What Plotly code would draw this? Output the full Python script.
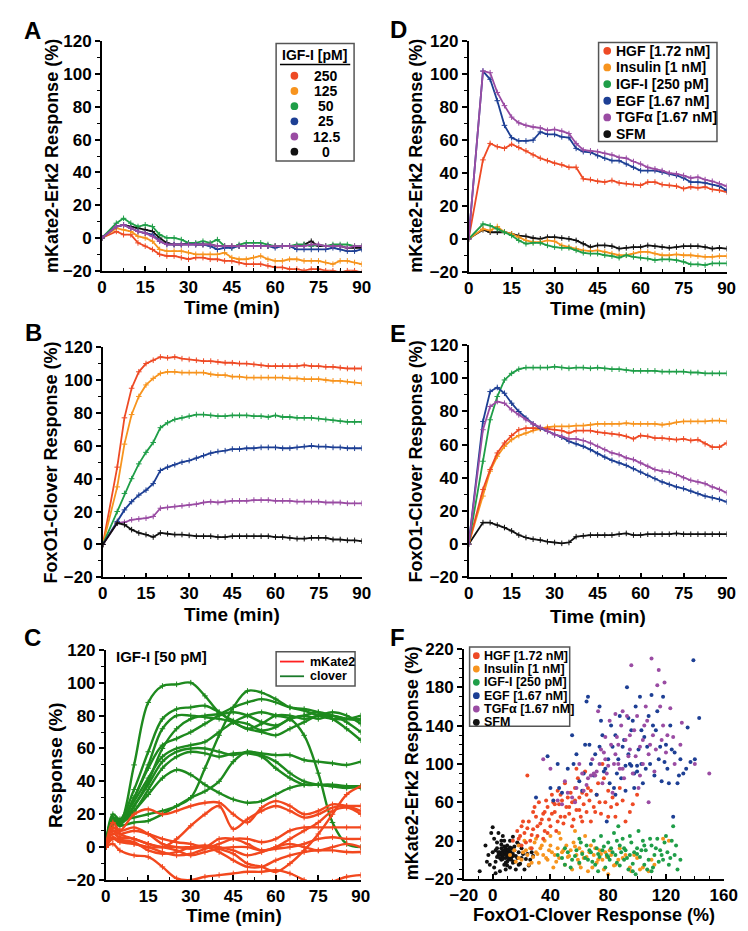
import plotly.graph_objects as go

# ---------------- data ----------------
T = [0, 5, 7.5, 10, 12.5, 15, 17.5, 20, 22.5, 25, 27.5, 30, 32.5, 35, 37.5, 40, 42.5, 45,
     47.5, 50, 52.5, 55, 57.5, 60, 62.5, 65, 67.5, 70, 72.5, 75, 77.5, 80, 82.5, 85, 87.5, 90]

# Panel A: mKate2-Erk2 response, IGF-I doses
A_250 = [0, 4, 2, 2, -3, -5, -7, -10, -11, -11, -12, -13, -12, -12, -13, -13, -14, -14, -15, -16,
         -16, -16, -17, -18, -18, -19, -19, -20, -19, -19, -20, -20, -21, -20, -20, -21]
A_125 = [0, 6, 5, 4, 1, 0, -2, -7, -8, -8, -8, -9, -10, -10, -10, -10, -9, -12, -13, -13,
         -12, -11, -13, -14, -14, -13, -13, -14, -14, -14, -15, -16, -14, -14, -15, -16]
A_50 = [0, 9, 12, 9, 7, 8, 7, 2, 0, 0, -1, -3, -3, -2, -3, -1, -5, -6, -4, -3,
        -3, -3, -4, -5, -5, -5, -4, -4, -5, -4, -5, -4, -4, -4, -5, -5]
A_25 = [0, 7, 8, 6, 4, 3, 2, -2, -4, -4, -4, -4, -4, -4, -5, -7, -6, -6, -5, -5,
        -5, -5, -5, -6, -5, -5, -7, -7, -7, -7, -7, -6, -7, -8, -8, -7]
A_12 = [0, 7, 8, 6, 4, 3, 1, -2, -4, -4, -4, -4, -4, -4, -4, -5, -5, -5, -5, -5,
        -5, -5, -5, -5, -5, -5, -5, -5, -4, -4, -5, -5, -5, -6, -5, -5]
A_0 = [0, 7, 8, 7, 6, 5, 4, 0, -3, -4, -4, -3, -4, -4, -4, -5, -5, -5, -5, -5,
       -5, -5, -5, -5, -5, -5, -5, -4, -2, -5, -5, -5, -5, -6, -6, -6]

# Panel B: FoxO1-Clover response, IGF-I doses
B_250 = [0, 47, 77, 95, 105, 110, 112, 114, 113.5, 114, 113, 112.5, 112, 111.5, 111.5, 111, 110.5, 110.5,
         110, 110, 109.5, 109, 108.5, 108.5, 108.5, 108.5, 108.5, 109, 108.5, 108.5, 108, 108, 107.5, 107, 107, 107]
B_125 = [0, 35, 61, 79, 90, 97, 101, 104, 105, 105, 104.5, 104.5, 104.5, 104.5, 103.5, 103, 103, 102,
         102, 101.5, 101.5, 101.5, 101.5, 101.5, 101.5, 101, 101, 100.5, 100.5, 100.5, 100, 99.5, 99.5, 99, 98.5, 98]
B_50 = [0, 20, 31, 40, 49, 56, 62, 71, 74, 76, 77, 78, 79, 79, 78.5, 78, 78, 78.5,
        78.5, 78.5, 78, 78, 77.5, 78.5, 77.5, 77.5, 77, 77, 77, 76.5, 76, 75.5, 75, 74.5, 74.5, 74.5]
B_25 = [0, 14, 21, 26, 30, 33, 37, 45, 47, 48.5, 50, 51, 52.5, 54, 55.5, 56.5, 57, 58,
        58, 58.5, 58.5, 59, 59, 59, 58.5, 58.5, 59, 59.5, 60, 59.5, 59.5, 59, 59, 58.5, 58.5, 58.5]
B_12 = [0, 13, 13.5, 15, 15.5, 16, 17, 22, 22.5, 23, 23.5, 24, 24.5, 25.5, 26, 25.5, 26, 26.5,
        26.5, 26.5, 27, 27, 27, 26.5, 26.5, 26.5, 26, 26, 26, 26, 25.5, 25.5, 25.5, 25, 25, 25]
B_0 = [0, 13, 12, 9, 7, 6, 4.5, 7, 6.5, 6, 6, 5.5, 5, 5, 5, 4.5, 4.5, 5,
       5, 5, 5, 5, 5, 4.5, 4.5, 4, 3.5, 3.5, 4, 4, 4, 3, 3, 2.5, 2.5, 2]

# Panel D: mKate2-Erk2 response, ligands
D_HGF = [0, 48, 58, 56, 55, 57.5, 55.5, 53.5, 51, 49, 47.5, 46, 45, 43.5, 43.5, 36.5, 36, 35,
         34.5, 35.5, 34, 33.5, 33, 32.5, 34.5, 34.5, 33, 32.5, 32, 30.5, 31.5, 31, 31.5, 30, 29.5, 28.5]
D_INS = [0, 6, 5, 7.5, 4, 3, 1, -1, -2, -2, -1, -1.5, -4, -5, -6, -7, -7.5, -7,
         -8, -9, -10, -10, -9, -8, -8, -9, -10, -10, -9.5, -10, -10, -10.5, -11, -11, -10.5, -10.5]
D_IGF = [0, 9, 8, 6, 4, 2, -1, -3, -2.5, -2.5, -4, -5, -5.5, -5.5, -7, -8.5, -9, -9,
         -10, -10.5, -11.5, -10, -11, -11.5, -12, -13, -12.5, -12.5, -13, -14, -15.5, -15.5, -16, -15, -15, -15]
D_EGF = [0, 102, 97, 84, 69, 61.5, 59.5, 59.5, 60, 65, 63.5, 63.5, 62, 61.5, 55, 53, 52.5, 50.5,
         49, 47.5, 47.5, 45.5, 43.5, 41.5, 41.5, 41.5, 40.5, 39.5, 38.5, 37, 34.5, 34.5, 34, 33, 32, 29.5]
D_TGF = [0, 102, 101, 89, 81, 74, 70.5, 69, 68, 67.5, 66, 66.5, 65.5, 64, 58, 54, 53.5, 53,
         52, 51, 49.5, 49, 47, 45.5, 43.5, 42.5, 41.5, 40, 39.5, 38.5, 37, 37.5, 36, 35, 33.5, 32]
D_SFM = [0, 5.5, 4, 4, 4, 3, 2, 1.5, 0.5, 0, 1, 1, 0.5, 0, -1, -3, -5, -4,
         -4, -4.5, -6, -5.5, -5, -5, -4, -4.5, -5, -5.5, -5, -4.5, -4.5, -4.5, -5, -6, -5.5, -6]

# Panel E: FoxO1-Clover response, ligands
E_IGF = [0, 50, 75, 89, 99, 103, 105.5, 106.5, 106.5, 106.5, 106.5, 107, 106.5, 106, 106.5, 106.5, 106, 106.5,
         106, 105.5, 105.5, 105, 104.5, 104.5, 104.5, 104.5, 104, 104, 104, 104, 103.5, 103.5, 103, 103, 103, 103]
E_EGF = [0, 74, 92, 94.5, 91, 85, 80, 76, 72.5, 70, 68, 66, 64.5, 62, 60.5, 59, 57, 54.5,
         52.5, 50.5, 49, 47.5, 45.5, 43.5, 41.5, 39.5, 37.5, 36, 34.5, 33.5, 32, 30.5, 29, 28, 27, 25.5]
E_TGF = [0, 69, 83, 86, 85, 81, 78, 75, 72.5, 70.5, 68, 66, 65, 63.5, 63.5, 62.5, 61, 59,
         57, 55, 54, 52, 51, 49, 47, 45, 44, 43.5, 42, 40, 38.5, 37.5, 36.5, 34.5, 33, 31]
E_HGF = [0, 33, 45, 55, 61, 65.5, 69, 70, 70, 70, 69.5, 69, 68.5, 67, 68.5, 68.5, 68.5, 67.5,
         67, 66.5, 66, 65, 63.5, 65.5, 65, 64, 64, 63.5, 63, 63.5, 62.5, 63, 60.5, 58.5, 58.5, 61]
E_INS = [0, 29, 44, 53, 59, 63, 65.5, 67, 68.5, 69.5, 70.5, 71, 71, 71, 71.5, 71.5, 72, 72.5,
         72.5, 72.5, 72.5, 73, 72.5, 72.5, 72.5, 72.5, 72, 72.5, 73.5, 74, 74, 74, 74, 74.5, 74.5, 74]
E_SFM = [0, 13, 13, 11.5, 10, 8, 5.5, 4, 3, 2.5, 1.5, 1, 0.5, 1, 4.5, 5, 5.5, 5.5,
         5.5, 5.5, 6, 6.5, 5.5, 5.5, 6, 6, 6, 6, 6.5, 6, 6, 6, 6, 6, 6, 6]

# Panel C: single-cell traces, IGF-I [50 pM]
TC = [0, 2.5, 5, 10, 15, 20, 25, 30, 35, 40, 45, 50, 55, 60, 65, 70, 75, 80, 85, 90]
C_CLOVER = [
    [0, 18, 15, 50, 88, 98, 99, 100, 92, 82, 77, 75, 71, 73, 78, 80, 78, 80, 78, 78],
    [0, 20, 17, 35, 58, 78, 84, 85, 86, 82, 76, 72, 70, 68, 72, 76, 80, 80, 76, 70],
    [0, 16, 14, 30, 50, 72, 80, 80, 79, 78, 76, 72, 75, 80, 80, 78, 80, 82, 80, 75],
    [0, 14, 14, 25, 40, 60, 72, 78, 80, 81, 85, 88, 90, 88, 85, 84, 82, 78, 72, 65],
    [0, 15, 16, 18, 20, 22, 25, 30, 48, 68, 85, 95, 94, 90, 85, 83, 80, 78, 78, 80],
    [0, 18, 14, 25, 38, 52, 58, 60, 60, 58, 56, 58, 57, 56, 56, 53, 52, 51, 50, 52],
    [0, 15, 14, 22, 32, 42, 47, 44, 38, 33, 29, 27, 28, 32, 36, 38, 38, 37, 37, 37],
    [0, 17, 16, 28, 42, 55, 60, 62, 64, 70, 76, 80, 82, 80, 78, 68, 45, 15, 2, 0],
    [0, 14, 13, 15, 16, 20, 25, 30, 34, 40, 52, 58, 56, 52, 45, 40, 38, 37, 36, 37],
    [0, 16, 15, 22, 35, 48, 55, 58, 57, 55, 57, 57, 55, 48, 42, 38, 38, 38, 37, 36],
    [0, 18, 16, 30, 48, 62, 66, 70, 75, 80, 82, 80, 76, 74, 78, 80, 82, 80, 78, 77],
]
C_MKATE = [
    [0, 12, 10, 20, 23, 20, 22, 25, 27, 27, 20, 15, 24, 28, 25, 20, 22, 26, 25, 22],
    [0, 8, 6, 5, 2, 0, 5, 13, 20, 25, 11, 17, 22, 25, 22, 18, 20, 24, 25, 25],
    [0, 10, 8, 10, 8, 5, 3, 2, 0, 5, 5, 2, -2, 0, 5, 10, 15, 22, 24, 20],
    [0, 5, 3, 2, 0, -3, -5, -4, -1, 2, 5, 5, 3, 5, 10, 12, 12, 12, 12, 12],
    [0, 12, 8, 5, 2, 0, -2, -5, -3, -1, 0, 0, -2, -1, 0, 2, 5, 6, 5, 5],
    [0, 6, 4, 2, 0, 0, 0, -1, 0, -3, -8, -12, -12, -8, -5, -3, -2, -2, -3, -3],
    [0, 2, -2, -5, -6, -12, -19, -20, -18, -17, -16, -15, -15, -14, -16, -20, -23, -21, -18, -17],
    [0, 10, 5, 3, -2, -4, -3, 0, 1, -1, -4, -10, -12, -15, -10, -2, 8, 20, 32, 37],
    [0, 15, 10, 12, 8, 2, 0, 0, 0, 0, -2, -5, -3, 0, 2, 0, -2, 0, 2, 0],
]

# Panel F: single-cell scatter (FoxO1-Clover x, mKate2-Erk2 y)
F_HGF_X = [17, 18, 20, 22, 24, 25, 26, 28, 28, 30, 31, 32, 33, 35, 36, 37, 38, 39, 40, 41, 42, 43, 44, 45,
           46, 47, 48, 49, 50, 51, 52, 53, 54, 55, 56, 57, 58, 59, 60, 61, 62, 63, 64, 65, 66, 67, 68, 70,
           72, 73, 75, 76, 78, 80, 82, 85, 88, 90, 95, 100, 20, 23, 27, 35, 14,
           19, 21, 24, 27, 29, 31, 34, 36, 38, 41, 43, 45, 47, 50, 53, 55, 57, 60, 62, 65, 68, 71, 74, 77,
           80, 83, 86, 92, 97, 58]
F_HGF_Y = [30, 22, 35, 28, 88, 40, 20, 50, 32, 45, 25, 60, 38, 48, 30, 62, 55, 42, 35, 68, 60, 50, 30, 72,
           58, 45, 62, 38, 80, 55, 65, 48, 70, 60, 42, 75, 52, 85, 65, 45, 70, 58, 92, 50, 75, 62, 40, 55,
           68, 80, 48, 100, 60, 72, 55, 45, 75, 62, 50, 68, 15, 18, 12, 22, 20,
           25, 40, 33, 26, 55, 35, 42, 50, 28, 48, 58, 40, 68, 45, 55, 35, 62, 52, 40, 68, 72, 50, 60, 85,
           45, 65, 58, 40, 58, 95]
F_INS_X = [12, 15, 16, 18, 20, 21, 22, 24, 25, 26, 28, 29, 30, 32, 33, 35, 36, 38, 39, 40, 42, 43, 45, 46,
           47, 48, 50, 51, 52, 54, 55, 56, 58, 59, 60, 61, 62, 64, 65, 66, 68, 70, 72, 74, 76, 78, 80, 82,
           85, 88, 90, 95, 98, 102, 108, 112, 118, 122, 46, 57,
           18, 23, 27, 31, 34, 37, 41, 44, 49, 53, 57, 60, 63, 67, 69, 71, 73, 75, 77, 79, 81, 84, 87, 92,
           96, 100, 104, 110, 40, 30]
F_INS_Y = [5, 10, -2, 15, 0, 8, 20, 5, -5, 12, 3, 18, 8, -3, 12, 5, 20, 0, 10, 15, -8, 5, 12, 2,
           22, 8, -5, 15, 3, 10, -10, 18, 5, 0, 12, -8, 8, 25, 3, -12, 15, 5, -3, 10, 0, 8, -15, 5,
           -5, 12, 2, -8, 5, -10, -12, -5, 22, 20, 28, 30,
           2, 10, -3, 6, 15, 2, 8, -2, 10, 4, 14, -4, 2, 8, -8, 12, 0, 6, -10, 3, 10, -6, 0, 5,
           -12, 2, -8, 0, 25, 22]
F_IGF_X = [45, 48, 50, 52, 55, 58, 60, 62, 65, 66, 68, 70, 71, 72, 74, 75, 76, 78, 79, 80, 81, 82, 84, 85,
           86, 88, 89, 90, 91, 92, 94, 95, 96, 98, 99, 100, 101, 102, 104, 105, 106, 108, 110, 111, 112, 114,
           115, 116, 118, 120, 122, 124, 125, 126, 128, 130, 73, 87, 97,
           50, 54, 57, 61, 64, 67, 69, 73, 77, 80, 83, 86, 88, 91, 93, 95, 97, 100, 103, 105, 107, 109,
           113, 117, 119, 121, 123, 127, 60, 110]
F_IGF_Y = [5, 2, -5, 8, 0, 10, -3, 6, 15, 0, 8, 20, -5, 12, 3, 25, 10, -8, 5, 18, 0, 12, 28, 5,
           -3, 15, 8, 22, 0, 10, -10, 5, 18, 8, -15, 12, 30, 3, 20, -5, 10, 0, 15, -8, 5, 22,
           -2, 10, 0, 25, -5, 20, 35, 5, -10, 0, -12, 35, -12,
           12, -8, 4, 18, 2, 10, -2, 6, 14, 3, 8, 20, -6, 12, 2, 25, -4, 6, 10, 15, -10, 22,
           12, 5, 18, 8, 2, 15, 22, -12]
F_EGF_X = [30, 38, 40, 42, 45, 48, 52, 55, 58, 60, 62, 64, 65, 66, 68, 70, 72, 74, 75, 77, 79, 80, 82, 84,
           85, 86, 88, 90, 92, 93, 94, 95, 96, 98, 99, 100, 101, 102, 104, 105, 106, 108, 110, 112, 113, 115,
           117, 118, 120, 122, 124, 125, 128, 130, 132, 135, 137, 139, 143, 92, 96, 103, 85,
           46, 56, 63, 67, 71, 76, 78, 81, 83, 87, 89, 91, 94, 97, 100, 103, 107, 109, 111, 114, 116, 119,
           121, 123, 126, 129, 134, 140, 74, 98]
F_EGF_Y = [65, 108, 75, 62, 100, 70, 95, 130, 110, 82, 72, 120, 165, 170, 100, 88, 68, 118, 145, 92, 40, 105, 140, 75,
           130, 90, 150, 118, 72, 180, 148, 100, 135, 90, 160, 98, 115, 170, 80, 128, 95, 150, 172, 88, 135, 105,
           82, 170, 120, 80, 115, 45, 80, 105, 90, 138, 102, 208, 148, 98, 98, 100, 68,
           75, 100, 90, 120, 110, 130, 95, 80, 118, 105, 85, 125, 110, 145, 92, 135, 118, 100, 140, 155, 118, 102,
           95, 140, 112, 88, 95, 105, 160, 75]
F_TGF_X = [35, 45, 48, 52, 55, 58, 60, 62, 65, 68, 70, 72, 73, 75, 76, 78, 80, 82, 83, 85, 86, 88, 89, 90,
           91, 92, 94, 96, 97, 98, 100, 101, 102, 104, 105, 106, 108, 110, 111, 112, 114, 115, 117, 119, 120,
           123, 126, 131, 150, 108, 95, 87,
           40, 50, 57, 63, 66, 69, 71, 74, 77, 79, 81, 84, 87, 90, 93, 95, 99, 102, 104, 107, 109, 113,
           116, 118, 121, 125, 130, 140, 85, 78]
F_TGF_Y = [105, 62, 58, 70, 65, 75, 100, 90, 78, 88, 90, 92, 155, 115, 80, 105, 98, 120, 70, 110, 128, 95, 140, 155,
           85, 125, 108, 203, 90, 135, 150, 75, 118, 100, 140, 160, 110, 210, 130, 92, 182, 198, 125, 185, 112,
           158, 100, 143, 90, 60, 115, 100,
           95, 82, 60, 72, 85, 105, 88, 100, 112, 90, 145, 100, 120, 95, 150, 130, 108, 88, 125, 145, 120, 115,
           160, 140, 130, 128, 120, 100, 152, 128]
F_SFM_X = [-9, -5, -3, -1, 0, 1, 2, 2, 3, 4, 5, 5, 6, 6, 7, 7, 8, 8, 9, 9, 10, 10, 11, 11, 12, 12, 13, 13,
           14, 15, 15, 16, 17, 18, 18, 20, 22, 24, 26, 28, 4, -2, 1, 6, 9, 3, 12, 14, 16, 20, 8, 10, 7, 11,
           13, 9, 10, 12, 6, 5,
           3, 5, 7, 8, 9, 10, 11, 12, 13, 14, 6, 8, 10, 12, 4, 9, 11, 7, 15, 17, 19, 21, 23, 0, -4, 2,
           14, 18, 25, 27]
F_SFM_Y = [-12, 15, 5, 28, 34, 22, 10, -2, 18, 5, -12, 8, 12, 0, 3, 25, 6, -5, 10, 2, 4, 15, 0, 8, 5, -8, 3, 12,
           6, -2, 10, 4, 18, -5, 8, 2, -10, 6, 0, 4, 28, -5, -8, 20, -10, 12, 20, -3, -10, 12, 14, -2, 9, 4,
           7, 6, 8, 2, 5, 2,
           3, 6, 1, 10, 12, 7, 3, 9, 0, 4, 16, 20, -6, 13, 8, -3, 11, 5, 14, 2, -4, 6, 1, 8, -2, -14,
           24, 16, -6, 8]

# ---------------- styling ----------------
W, H = 748, 931
FONT = "Liberation Sans, Arial, Helvetica, sans-serif"
RED = '#EE4A25'
ORANGE = '#F7941E'
GREEN = '#1F9E48'
BLUE = '#1D3F94'
PURPLE = '#9A4CA3'
BLACK = '#111111'
C_RED = '#F2481E'
C_GREEN = '#1E8A1E'


def fx(p):
    return p / W


def fy(p):
    return 1 - p / H


# panel geometry in pixels: x(left,right), y(top,bottom)
GEOM = {
    1: ((83, 353), (25, 259)),    # A
    2: ((84, 353), (337, 572)),   # B
    3: ((87, 352), (646, 881)),   # C
    4: ((464, 732), (25, 260)),   # D
    5: ((464, 732), (335, 572)),  # E
    6: ((459, 729), (645, 880)),  # F
}

fig = go.Figure()


def ax(n):
    return ('x' if n == 1 else f'x{n}', 'y' if n == 1 else f'y{n}')


def add_line(n, xs, ys, color, width=1.8, msize=4, shape='linear'):
    xa, ya = ax(n)
    fig.add_trace(go.Scatter(
        x=xs, y=ys, mode='lines+markers', xaxis=xa, yaxis=ya,
        line=dict(color=color, width=width, shape=shape),
        marker=dict(symbol='cross-thin', size=msize, line=dict(color=color, width=1)),
        showlegend=False, hoverinfo='skip'))


# Panel A
for ys, c in [(A_0, BLACK), (A_250, RED), (A_125, ORANGE), (A_50, GREEN), (A_25, BLUE), (A_12, PURPLE)]:
    add_line(1, T, ys, c)
# Panel B
for ys, c in [(B_250, RED), (B_125, ORANGE), (B_50, GREEN), (B_25, BLUE), (B_12, PURPLE), (B_0, BLACK)]:
    add_line(2, T, ys, c)
# Panel C
for ys in C_CLOVER:
    add_line(3, TC, ys, C_GREEN, width=2.4, msize=4, shape='spline')
for ys in C_MKATE:
    add_line(3, TC, ys, C_RED, width=2.4, msize=4, shape='spline')
# Panel D
for ys, c in [(D_SFM, BLACK), (D_INS, ORANGE), (D_IGF, GREEN), (D_HGF, RED), (D_EGF, BLUE), (D_TGF, PURPLE)]:
    add_line(4, T, ys, c)
# Panel E
for ys, c in [(E_SFM, BLACK), (E_INS, ORANGE), (E_HGF, RED), (E_IGF, GREEN), (E_EGF, BLUE), (E_TGF, PURPLE)]:
    add_line(5, T, ys, c)
# Panel F
for xs, ys, c in [(F_SFM_X, F_SFM_Y, BLACK), (F_INS_X, F_INS_Y, ORANGE), (F_IGF_X, F_IGF_Y, GREEN),
                  (F_HGF_X, F_HGF_Y, RED), (F_EGF_X, F_EGF_Y, BLUE), (F_TGF_X, F_TGF_Y, PURPLE)]:
    fig.add_trace(go.Scatter(x=xs, y=ys, mode='markers', xaxis='x6', yaxis='y6',
                             marker=dict(color=c, size=4, line=dict(width=0)),
                             showlegend=False, hoverinfo='skip'))

TICKFONT = dict(family=FONT, size=17, color='black', weight='bold')
layout = dict(width=W, height=H, margin=dict(l=0, r=0, t=0, b=0), autosize=False,
              paper_bgcolor='white', plot_bgcolor='white', showlegend=False,
              font=dict(family=FONT, color='black'))

for n, ((x0, x1), (y0, y1)) in GEOM.items():
    xk = 'xaxis' if n == 1 else f'xaxis{n}'
    yk = 'yaxis' if n == 1 else f'yaxis{n}'
    xa, ya = ax(n)
    if n == 6:
        xr, xt, xminor = [-20, 160], [-20, 0, 40, 80, 120, 160], dict(dtick=10, tick0=0)
        yr, yt = [-20, 220], [-20, 20, 60, 100, 140, 180, 220]
    else:
        xr, xt, xminor = [0, 90], [0, 15, 30, 45, 60, 75, 90], dict(dtick=7.5, tick0=0)
        yr, yt = [-20, 120], [-20, 0, 20, 40, 60, 80, 100, 120]
    layout[xk] = dict(domain=[fx(x0), fx(x1)], anchor=ya, range=xr, tickvals=xt,
                      showline=True, linecolor='black', linewidth=1.5, mirror=False,
                      ticks='inside', ticklen=5, tickwidth=1.5, tickcolor='black',
                      minor=dict(ticks='inside', ticklen=3, tickwidth=1.2, tickcolor='black', **xminor),
                      showgrid=False, zeroline=False, tickfont=TICKFONT, fixedrange=True)
    layout[yk] = dict(domain=[fy(y1), fy(y0)], anchor=xa, range=yr, tickvals=yt,
                      showline=True, linecolor='black', linewidth=1.5, mirror=False,
                      ticks='outside', ticklen=5, tickwidth=1.5, tickcolor='black',
                      minor=dict(ticks='outside', ticklen=3, tickwidth=1.2, tickcolor='black', dtick=10, tick0=0),
                      showgrid=False, zeroline=False, tickfont=TICKFONT, fixedrange=True)

fig.update_layout(**layout)

ann = []
shapes = []


def text(xp, yp, s, size, xanchor='center', angle=0, weight='bold'):
    ann.append(dict(x=fx(xp), y=fy(yp), xref='paper', yref='paper', text=s, showarrow=False,
                    xanchor=xanchor, yanchor='middle', textangle=angle,
                    font=dict(family=FONT, size=size, color='black', weight=weight)))


# panel letters
for s, xp, yp in [('A', 11, 14), ('B', 12, 322), ('C', 11, 633), ('D', 391, 13), ('E', 391, 323), ('F', 390, 633)]:
    text(xp, yp, s, 24)

# axis titles
YT_ERK = 'mKate2-Erk2 Response (%)'
YT_FOX = 'FoxO1-Clover Response (%)'
text(31, 142, YT_ERK, 18, angle=-90)
text(30, 455, YT_FOX, 18, angle=-90)
text(35, 764, 'Response (%)', 19, angle=-90)
text(409, 142, YT_ERK, 18, angle=-90)
text(409, 454, YT_FOX, 18, angle=-90)
text(406, 762, YT_ERK, 18, angle=-90)
text(218, 297, 'Time (min)', 19)
text(218, 610, 'Time (min)', 19)
text(220, 917, 'Time (min)', 19)
text(598, 298, 'Time (min)', 19)
text(598, 612, 'Time (min)', 19)
text(594, 917, 'FoxO1-Clover Response (%)', 18)

# panel C inner label
text(96, 653, 'IGF-I [50 pM]', 15, xanchor='left')


def rect(x0, y0, x1, y1):
    shapes.append(dict(type='rect', xref='paper', yref='paper', x0=fx(x0), x1=fx(x1), y0=fy(y1), y1=fy(y0),
                       line=dict(color='#555555', width=1.5), fillcolor='white', layer='above'))


def dot(xc, yc, r, color):
    shapes.append(dict(type='circle', xref='paper', yref='paper', x0=fx(xc - r), x1=fx(xc + r),
                       y0=fy(yc + r), y1=fy(yc - r), line=dict(width=0), fillcolor=color, layer='above'))


def hline(x0, x1, y, color, width):
    shapes.append(dict(type='line', xref='paper', yref='paper', x0=fx(x0), x1=fx(x1), y0=fy(y), y1=fy(y),
                       line=dict(color=color, width=width), layer='above'))


# Legend A
A_LABELS = ['250', '125', '50', '25', '12.5', '0']
A_COLORS = [RED, ORANGE, GREEN, BLUE, PURPLE, BLACK]
rect(264, 27, 345, 147)
text(304, 39, 'IGF-I [pM]', 14)
hline(268, 341, 48.5, 'black', 1.5)
for i, (lab, c) in enumerate(zip(A_LABELS, A_COLORS)):
    yy = 60 + i * 15.5
    dot(283, yy, 4, c)
    text(316, yy, lab, 14)

# Legend D / F
LIG_LABELS = ['HGF [1.72 nM]', 'Insulin [1 nM]', 'IGF-I [250 pM]', 'EGF [1.67 nM]', 'TGFα [1.67 nM]', 'SFM']
LIG_COLORS = [RED, ORANGE, GREEN, BLUE, PURPLE, BLACK]
rect(599, 26, 722, 127)
for i, (lab, c) in enumerate(zip(LIG_LABELS, LIG_COLORS)):
    yy = 34.5 + i * 17
    dot(608, yy, 4, c)
    text(615, yy, lab, 14, xanchor='left')
rect(465, 643, 569, 724)
for i, (lab, c) in enumerate(zip(LIG_LABELS, LIG_COLORS)):
    yy = 652 + i * 13.6
    dot(472, yy, 3.5, c)
    text(478, yy, lab, 12.5, xanchor='left')

# Legend C
rect(264, 648, 346, 683)
hline(268, 293, 658, '#FF2020', 1.8)
hline(268, 293, 673, '#1A7A2A', 1.8)
text(297, 658, 'mKate2', 12.5, xanchor='left')
text(297, 673, 'clover', 12.5, xanchor='left')

fig.update_layout(annotations=ann, shapes=shapes)
fig.write_html("out.html")
